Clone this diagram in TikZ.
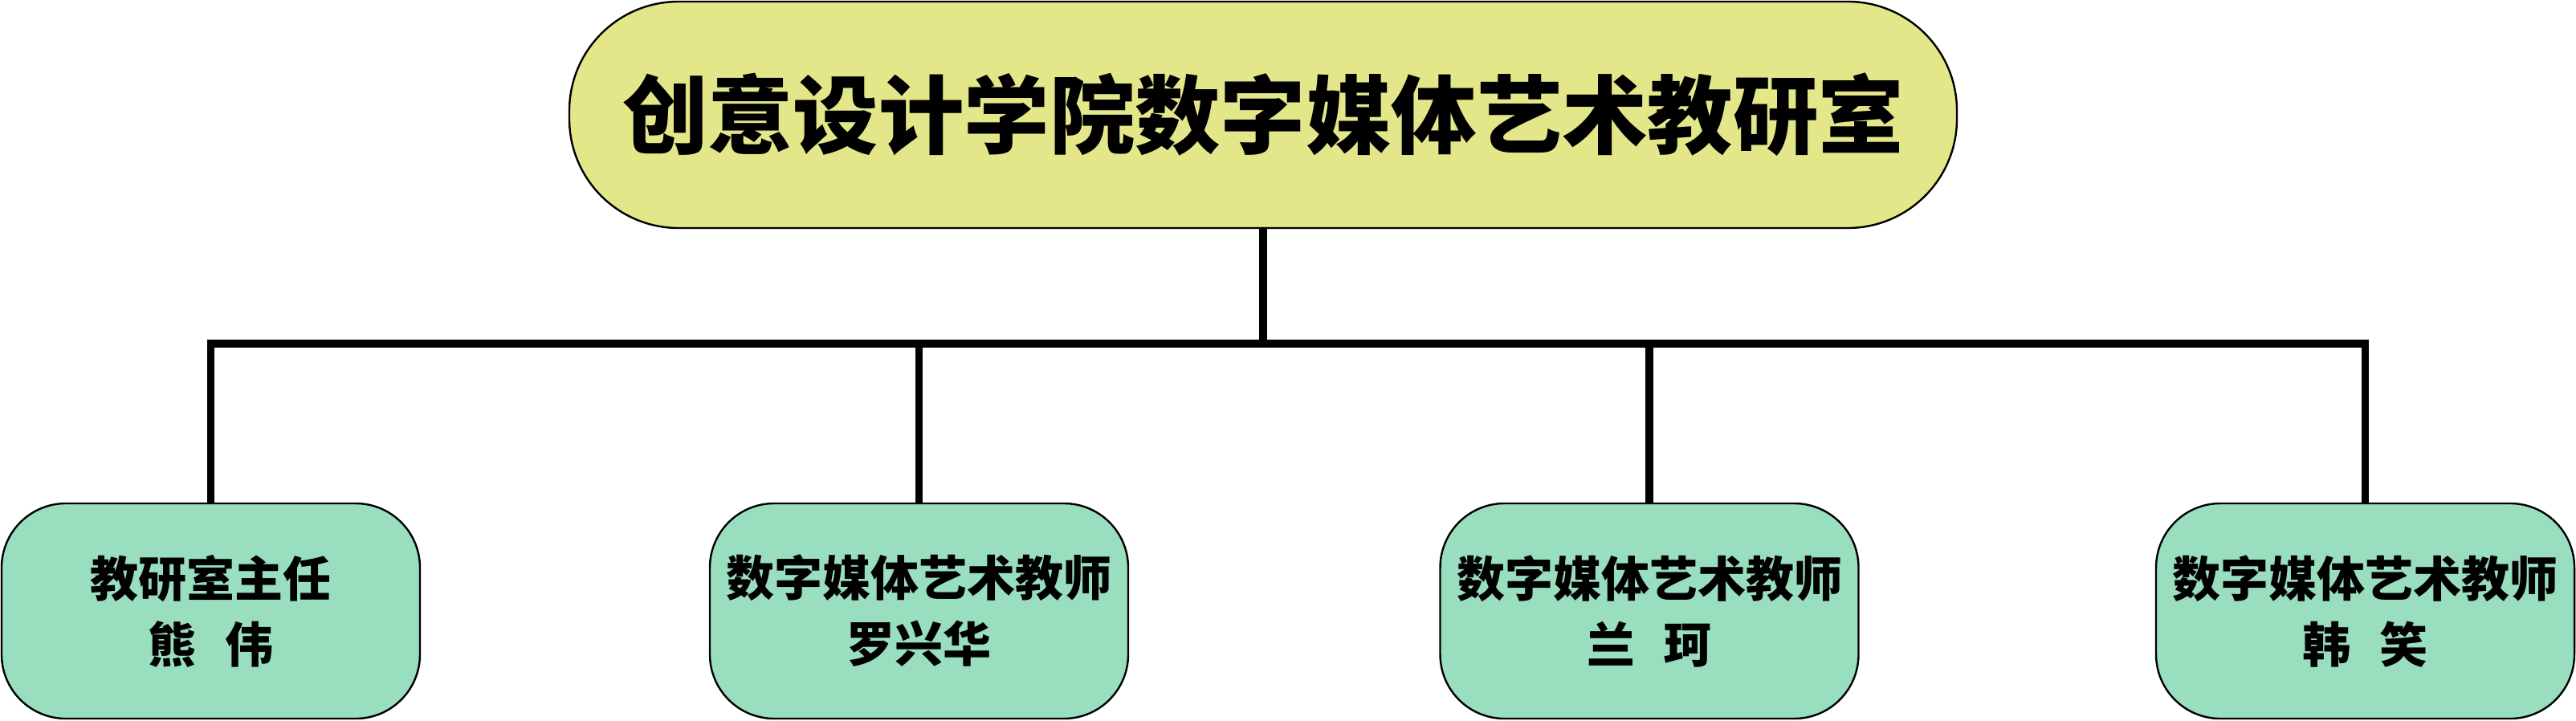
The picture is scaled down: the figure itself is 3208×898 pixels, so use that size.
\documentclass[tikz,border=0pt]{standalone}
\usepackage{fontspec}
\newfontfamily\cjk{Noto Sans CJK SC}
\definecolor{topfill}{RGB}{227,230,137}
\definecolor{subfill}{RGB}{153,222,190}
\tikzset{
  topbox/.style={draw=black, line width=0.6pt, fill=topfill, rounded corners=34pt,
    minimum width=432pt, minimum height=70.5pt, inner sep=0pt,
    font=\cjk\bfseries\fontsize{26.6pt}{30pt}\selectfont},
  subbox/.style={draw=black, line width=0.6pt, fill=subfill, rounded corners=20pt,
    minimum width=130.25pt, minimum height=67pt, inner sep=0pt, align=center,
    font=\cjk\bfseries\fontsize{15pt}{20.5pt}\selectfont},
  conn/.style={line width=2.3pt, line join=miter}
}
\begin{document}
\begin{tikzpicture}[x=0.25pt, y=-0.25pt]
\useasboundingbox (0,0) rectangle (3208,898);
\node[topbox] (top) at (1573,143) {创意设计学院数字媒体艺术教研室};
\node[subbox] (n1) at (262.5,761) {教研室主任\\熊\hspace{9pt}伟};
\node[subbox] (n2) at (1144.5,761) {数字媒体艺术教师\\罗兴华};
\node[subbox] (n3) at (2054,761) {数字媒体艺术教师\\兰\hspace{9pt}珂};
\node[subbox] (n4) at (2945.5,761) {数字媒体艺术教师\\韩\hspace{9pt}笑};
\coordinate (bus) at (1573,428);
\draw[conn] (top.south) -- (bus);
\draw[conn] (n1.north) |- (bus) -| (n4.north);
\draw[conn] (n2.north) -- (n2.north |- bus);
\draw[conn] (n3.north) -- (n3.north |- bus);
\end{tikzpicture}
\end{document}
